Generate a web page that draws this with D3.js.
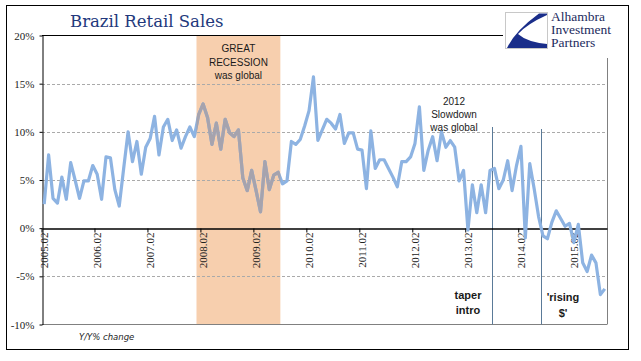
<!DOCTYPE html>
<html>
<head>
<meta charset="utf-8">
<script src="https://cdn.jsdelivr.net/npm/d3@7"></script>
<style>
  body { margin: 0; background: #fff; }
</style>
</head>
<body>
<div id="chart"></div>
<script>
// monthly categories, 2005.02 .. 2015.09
var months = d3.timeMonth.range(new Date(2005, 1, 1), new Date(2015, 9, 1)).map(d3.timeFormat("%Y.%m"));

// Y/Y % change
var sales = [
    2.5, 7.6, 3.1, 2.6, 5.3, 3.0, 6.8, 5.0, 3.1, 4.9, 4.9, 6.5,
    5.6, 3.0, 7.4, 7.3, 4.0, 2.3, 6.2, 10.0, 6.9, 9.0, 5.6, 8.4,
    9.3, 11.6, 7.6, 10.5, 11.3, 9.1, 10.2, 8.3, 9.5, 10.5, 9.5, 11.8,
    12.9, 11.5, 8.7, 10.9, 8.2, 11.3, 9.9, 9.5, 10.2, 5.2, 3.9, 6.0,
    3.9, 1.7, 6.9, 4.0, 5.5, 5.8, 4.6, 4.9, 9.0, 8.7, 9.2, 10.6,
    12.2, 15.7, 9.1, 10.2, 11.3, 10.9, 10.3, 11.8, 8.8, 9.9, 9.9, 8.2,
    8.1, 4.1, 10.1, 6.2, 7.1, 7.1, 6.2, 5.3, 4.3, 6.9, 6.9, 7.4,
    8.8, 12.6, 6.0, 8.1, 9.5, 7.0, 10.0, 8.4, 9.1, 8.4, 4.9, 6.0,
    -0.2, 4.5, 1.6, 4.5, 1.6, 6.0, 6.2, 4.1, 5.0, 7.0, 3.9, 6.5,
    8.5, -1.0, 6.7, 4.1, 1.2, -0.8, -1.1, 0.6, 1.8, 1.0, 0.2, 0.5,
    -1.5, 0.4, -3.6, -4.5, -2.8, -3.6, -6.9, -6.3
];

var xTicks = ["2005.02", "2006.02", "2007.02", "2008.02", "2009.02", "2010.02",
              "2011.02", "2012.02", "2013.02", "2014.02", "2015.02"];
var yTicks = [-10, -5, 0, 5, 10, 15, 20];
var gridValues = [15, 10, 5, -5];

var recession = ["2008.01", "2009.07"];
var events = ["2013.08", "2014.07"];

function init() {
    var w = 641;
    var h = 361;
    var left = 42, right = 607, top = 35.5, bottom = 324.5;

    var svg = d3.select("#chart")
        .append("svg")
        .attr("width", w)
        .attr("height", h);

    var xScale = d3.scaleBand()
        .domain(months)
        .range([left, right])
        .padding(0);
    var bw = xScale.bandwidth();

    var yScale = d3.scaleLinear()
        .domain([-10, 20])
        .range([bottom, top]);

    // outer frame
    svg.append("rect")
        .attr("x", 6.5).attr("y", 5.5)
        .attr("width", 622).attr("height", 344)
        .attr("fill", "none")
        .attr("stroke", "#000");

    // recession shading
    var rx0 = xScale(recession[0]);
    var rx1 = xScale(recession[1]) + bw;
    svg.append("rect")
        .attr("x", rx0).attr("y", top)
        .attr("width", rx1 - rx0).attr("height", bottom - top)
        .attr("fill", "#f7cfae");

    svg.append("clipPath").attr("id", "rec")
        .append("rect")
        .attr("x", rx0).attr("y", 0)
        .attr("width", rx1 - rx0).attr("height", h);

    // gridlines
    svg.selectAll(".grid")
        .data(gridValues)
        .enter()
        .append("line")
        .attr("x1", left).attr("x2", right)
        .attr("y1", function(d) { return Math.round(yScale(d)) + 0.5; })
        .attr("y2", function(d) { return Math.round(yScale(d)) + 0.5; })
        .attr("stroke", "#aaa")
        .attr("stroke-dasharray", "3,2");

    // plot area border (bottom, right gray; top black)
    svg.append("line")
        .attr("x1", left).attr("x2", right)
        .attr("y1", bottom).attr("y2", bottom)
        .attr("stroke", "#808080");
    svg.append("line")
        .attr("x1", right + 0.5).attr("x2", right + 0.5)
        .attr("y1", 58).attr("y2", bottom)
        .attr("stroke", "#808080");
    svg.append("line")
        .attr("x1", left).attr("x2", 503)
        .attr("y1", top).attr("y2", top)
        .attr("stroke", "#000");

    // event lines
    svg.selectAll(".event")
        .data(events)
        .enter()
        .append("line")
        .attr("x1", function(d) { return Math.round(xScale(d)) + 0.5; })
        .attr("x2", function(d) { return Math.round(xScale(d)) + 0.5; })
        .attr("y1", function(d, i) { return i == 0 ? 127 : 129; })
        .attr("y2", bottom)
        .attr("stroke", "#5a7a98");

    // y-axis
    var yAxis = svg.append("g")
        .attr("transform", "translate(" + (left + 0.5) + ",0)")
        .call(d3.axisLeft(yScale)
            .tickValues(yTicks)
            .tickFormat(function(d) { return d + "%"; })
            .tickSize(3)
            .tickSizeOuter(0));
    yAxis.select(".domain").attr("stroke", "#000");
    yAxis.selectAll("text")
        .attr("x", -8)
        .attr("fill", "#222")
        .style("font-family", "'Liberation Serif', serif")
        .style("font-size", "11px");

    // x-axis on the zero line
    var xAxis = svg.append("g")
        .attr("transform", "translate(0," + (Math.round(yScale(0)) + 0.5) + ")")
        .call(d3.axisBottom(xScale)
            .tickValues(xTicks)
            .tickSize(4)
            .tickSizeOuter(0));
    xAxis.select(".domain").attr("stroke", "#000").attr("stroke-width", 1.3);
    xAxis.selectAll(".tick line").attr("transform", "translate(" + (-bw / 2) + ",0)");
    xAxis.selectAll("text")
        .attr("transform", "rotate(-90)")
        .attr("x", -4)
        .attr("y", 0)
        .attr("dy", "0.35em")
        .attr("fill", "#222")
        .style("text-anchor", "end")
        .style("font-family", "'Liberation Serif', serif")
        .style("font-size", "11px");

    // data line
    var line = d3.line()
        .x(function(d, i) { return xScale(months[i]) + bw / 2; })
        .y(function(d) { return yScale(d); });

    svg.append("path")
        .datum(sales)
        .attr("d", line)
        .attr("fill", "none")
        .attr("stroke", "#8db3e2")
        .attr("stroke-width", 3.2)
        .attr("stroke-linejoin", "round");

    svg.append("path")
        .datum(sales)
        .attr("d", line)
        .attr("clip-path", "url(#rec)")
        .attr("fill", "none")
        .attr("stroke", "#a6a3ad")
        .attr("stroke-width", 3.2)
        .attr("stroke-linejoin", "round");

    // annotations
    function note(lines, cx, y0, step, bold) {
        var t = svg.append("text")
            .attr("text-anchor", "middle")
            .attr("fill", "#1a1a1a")
            .style("font-family", "'Liberation Sans', Arial, sans-serif")
            .style("font-size", bold ? "11px" : "10px")
            .style("font-weight", bold ? "bold" : "normal");
        lines.forEach(function(s, i) {
            t.append("tspan").attr("x", cx).attr("y", y0 + i * step).text(s);
        });
    }
    note(["GREAT", "RECESSION", "was global"], (rx0 + rx1) / 2, 52, 13.5, false);
    note(["2012", "Slowdown", "was global"], 454, 104.5, 13, false);
    note(["taper", "intro"], 468, 298.5, 15.5, true);
    note(["'rising", "$'"], 563, 301, 15.5, true);

    svg.append("text")
        .attr("x", 79).attr("y", 340)
        .attr("fill", "#222")
        .style("font-family", "'DejaVu Sans', sans-serif")
        .style("font-size", "8.5px")
        .style("font-style", "italic")
        .text("Y/Y% change");

    // title
    svg.append("text")
        .attr("x", 70).attr("y", 27)
        .attr("fill", "#22387c")
        .style("font-family", "'DejaVu Serif', serif")
        .style("font-size", "16.5px")
        .text("Brazil Retail Sales");

    // logo
    var logo = svg.append("g").attr("transform", "translate(505,12)");
    logo.append("rect")
        .attr("x", 0.5).attr("y", 0.5)
        .attr("width", 42).attr("height", 36)
        .attr("fill", "#fff")
        .attr("stroke", "#c8c8c8");
    logo.append("path")
        .attr("d", "M34,1.5 L42,1.5 L42,3 Q22,12 13,22 Q22,30 42,32 L42,36 L2,36 Q10,19 34,1.5 Z")
        .attr("fill", "#1a2e8a");
    var lt = svg.append("text")
        .attr("fill", "#1c2b5e")
        .style("font-family", "'Liberation Serif', serif")
        .style("font-size", "13.5px");
    ["Alhambra", "Investment", "Partners"].forEach(function(s, i) {
        lt.append("tspan").attr("x", 551).attr("y", 21 + i * 13).text(s);
    });
}

window.onload = init;
</script>
</body>
</html>
